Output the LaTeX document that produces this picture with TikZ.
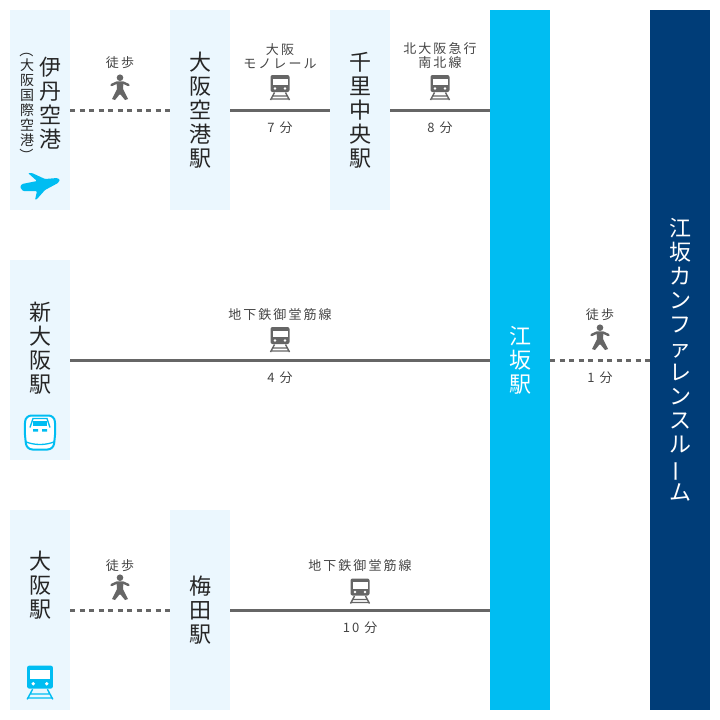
\documentclass[tikz,border=0pt]{standalone}
\usepackage{fontspec}
\setmainfont{Noto Sans CJK JP}
\newfontfamily\smallfont[LetterSpace=16]{Noto Sans CJK JP}
\newcommand{\tatebar}{\rotatebox[origin=c]{90}{ー}}
\newcommand{\tateopen}{\rotatebox[origin=c]{-90}{（}}
\newcommand{\tateclose}{\rotatebox[origin=c]{-90}{）}}
\definecolor{palebox}{HTML}{EBF7FE}
\definecolor{skyblue}{HTML}{00BDF2}
\definecolor{navyblue}{HTML}{003D78}
\definecolor{linegray}{HTML}{666666}
\definecolor{textgray}{HTML}{444444}
\tikzset{
    stationbox/.style={fill=palebox, inner sep=0, minimum width=60pt, text=black!85,
        align=center, font=\fontsize{22}{24}\selectfont},
    routetext/.style={inner sep=0, yshift=-1pt, text=textgray, align=center, font=\fontsize{13}{14}\smallfont},
    railline/.style={draw=linegray, line width=3pt},
    walkline/.style={draw=linegray, line width=3pt, dash pattern=on 5pt off 4.5pt},
    walkicon/.pic={
        \fill[linegray] (0,-9.3) circle (3.3);
        \draw[linegray, line width=2.4pt, line cap=round, line join=round]
            (-8.5,-2) -- (-3,-4.5) -- (3,-4.5) -- (8.5,-2);
        \fill[linegray] (-3.5,-5) -- (3.5,-5) -- (3,2) -- (8,12) -- (5,13) -- (0.5,7.5) -- (-0.5,7.5) -- (-5,13) -- (-8,12) -- (-3,2) -- cycle;
    },
    trainicon/.pic={
        \fill[#1, rounded corners=2pt] (-9.5,-12.5) rectangle (9.5,4.5);
        \fill[white] (-7.5,-9) rectangle (7.5,-2.5);
        \fill[white] (-5,1) circle (1.4) (5,1) circle (1.4);
        \draw[#1, line width=1.4pt] (-5.5,5) -- (-9.5,12.5) (5.5,5) -- (9.5,12.5)
            (-7.5,8.5) -- (7.5,8.5) (-9.5,11.5) -- (9.5,11.5);
    },
    planeicon/.pic={
        \fill[skyblue, rounded corners=1pt] (-20,1) -- (-18,-2) -- (-3,-5) -- (-12,-13) -- (-8,-13) -- (5,-7)
            -- (17,-8) -- (20,-6.5) -- (18,-3) -- (5,4) -- (-3,13) -- (-5,14) -- (-3,5) -- (-17,5) -- cycle;
    },
    bulleticon/.pic={
        \draw[skyblue, line width=2pt, fill=white, rounded corners=6pt]
            (-14.5,-17) -- (14.5,-17) -- (15.5,-2) -- (13.5,17) -- (-13.5,17) -- (-15.5,-2) -- cycle;
        \draw[skyblue, line width=1.3pt] (-10,-5) -- (-7,-14) -- (7,-14) -- (10,-5)
            (-15,9) .. controls (-6,13) and (6,13) .. (15,9);
        \fill[skyblue] (-7,-11.5) rectangle (7,-7);
        \fill[skyblue] (-7,-3.5) rectangle (-2,-1) (2,-3.5) rectangle (7,-1);
    }
}
\begin{document}
\begin{tikzpicture}[x=1pt, y=-1pt]
    \useasboundingbox (0,0) rectangle (720,720);

    \node[stationbox, minimum height=200pt] (itami) at (40,110) {};
    \node[stationbox, minimum height=200pt] (kix) at (200,110) {大\\阪\\空\\港\\駅};
    \node[stationbox, minimum height=200pt] (senri) at (360,110) {千\\里\\中\\央\\駅};
    \node[stationbox, minimum height=200pt] (shinosaka) at (40,360) {};
    \node[stationbox, minimum height=200pt] (osaka) at (40,610) {};
    \node[stationbox, minimum height=200pt] (umeda) at (200,610) {梅\\田\\駅};
    \node[stationbox, fill=skyblue, text=white, minimum height=700pt] (esaka) at (520,360) {江\\坂\\駅};
    \node[stationbox, fill=navyblue, text=white, minimum height=700pt] (confroom) at (680,360)
        {江\\坂\\カ\\ン\\フ\\ァ\\レ\\ン\\ス\\ル\\\tatebar\\ム};

    \node[stationbox, fill=none] (itamilabel) at (50,103) {伊\\丹\\空\\港};
    \node[stationbox, fill=none, font=\fontsize{14}{15}\selectfont] (itamisub) at (27,103)
        {\tateopen\\大\\阪\\国\\際\\空\\港\\\tateclose};
    \node[stationbox, fill=none] (shinosakalabel) at (40,348) {新\\大\\阪\\駅};
    \node[stationbox, fill=none] (osakalabel) at (40,585) {大\\阪\\駅};

    \path[walkline] (itami.east) -- (kix.west);
    \path[railline] (kix.east) -- (senri.west);
    \path[railline] (senri.east) -- (senri.east -| esaka.west);
    \path[railline] (shinosaka.east) -- (shinosaka.east -| esaka.west);
    \path[walkline] (osaka.east) -- (umeda.west);
    \path[railline] (umeda.east) -- (umeda.east -| esaka.west);
    \path[walkline] (esaka.east |- shinosaka.east) -- (confroom.west |- shinosaka.east);

    \node[routetext] (walka) at (120,62) {徒歩};
    \node[routetext] (monorail) at (280,55) {大阪\\モノレール};
    \node[routetext] (kitakyu) at (440,55) {北大阪急行\\南北線};
    \node[routetext] (midoa) at (280,314) {地下鉄御堂筋線};
    \node[routetext] (walkb) at (600,314) {徒歩};
    \node[routetext] (walkc) at (120,565) {徒歩};
    \node[routetext] (midob) at (360,565) {地下鉄御堂筋線};

    \node[routetext] (mina) at (280,127) {7 分};
    \node[routetext] (minb) at (440,127) {8 分};
    \node[routetext] (minc) at (280,377) {4 分};
    \node[routetext] (mind) at (600,377) {1 分};
    \node[routetext] (mine) at (360,627) {10 分};

    \pic at (120,87) {walkicon};
    \pic at (600,337) {walkicon};
    \pic at (120,587) {walkicon};
    \pic at (280,87.5) {trainicon=linegray};
    \pic at (440,87.5) {trainicon=linegray};
    \pic at (280,339.5) {trainicon=linegray};
    \pic at (360,591) {trainicon=linegray};
    \pic[scale=1.35] at (40,682.5) {trainicon=skyblue};
    \pic at (40,186) {planeicon};
    \pic at (40,432.5) {bulleticon};
\end{tikzpicture}
\end{document}
